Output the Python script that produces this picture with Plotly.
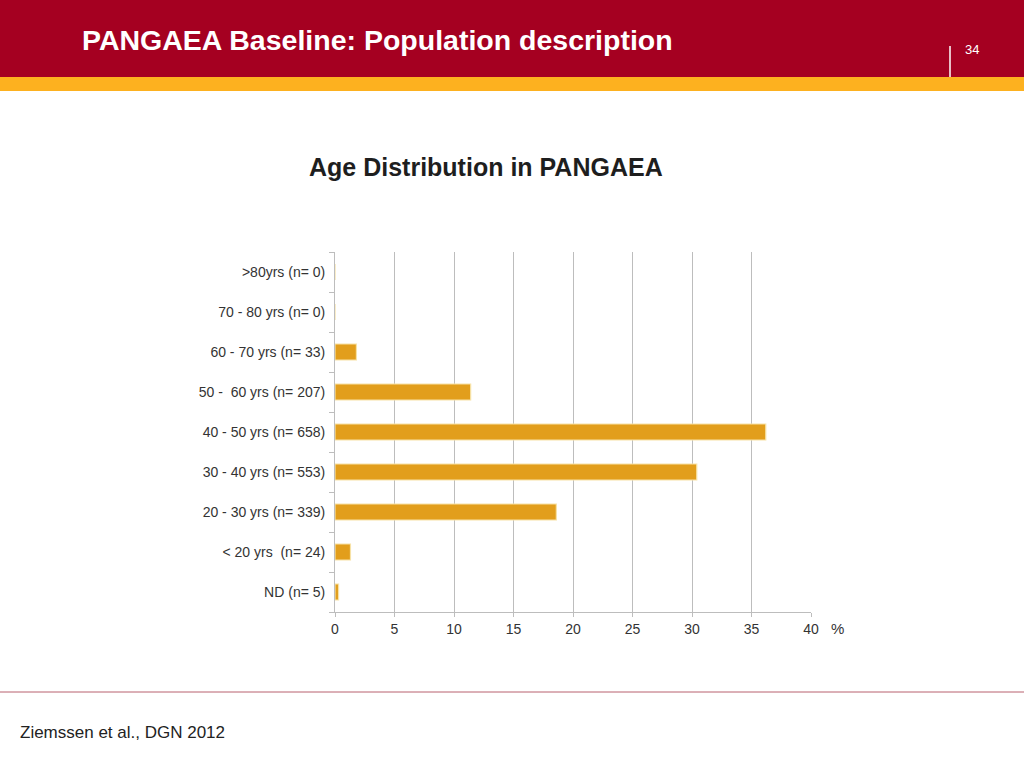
import plotly.graph_objects as go

# age groups, top to bottom as on the slide
groups = ["ND (n= 5)", "< 20 yrs  (n= 24)", "20 - 30 yrs (n= 339)", "30 - 40 yrs (n= 553)",
          "40 - 50 yrs (n= 658)", "50 -  60 yrs (n= 207)", "60 - 70 yrs (n= 33)",
          "70 - 80 yrs (n= 0)", ">80yrs (n= 0)"]
percent = [0.3, 1.3, 18.6, 30.4, 36.2, 11.4, 1.8, 0.0, 0.0]
x_ticks = [0, 5, 10, 15, 20, 25, 30, 35, 40]

W, H = 1024, 768
font = "Liberation Sans, Arial, sans-serif"
narrow = "Liberation Sans Narrow, Arial Narrow, Liberation Sans, sans-serif"

fig = go.Figure()
fig.add_trace(go.Bar(x=percent, y=groups, orientation="h", width=0.4,
                     marker=dict(color="#E29E1C", line=dict(color="#F7E2A6", width=1.2)),
                     hoverinfo="x+y"))

fig.update_xaxes(range=[0, 40], tickvals=x_ticks, showgrid=True, gridcolor="#BDBDBD", gridwidth=1,
                 showline=True, linecolor="#BDBDBD", linewidth=1, ticks="outside", ticklen=4,
                 tickcolor="#BDBDBD", zeroline=False, domain=[335 / W, 811 / W], automargin=False,
                 tickfont=dict(family=font, size=14, color="#333333"))
fig.update_yaxes(showline=True, linecolor="#BDBDBD", linewidth=1, ticks="outside", ticklen=5,
                 tickcolor="#BDBDBD", tickson="boundaries", showgrid=False, automargin=False,
                 domain=[1 - 612 / H, 1 - 252 / H], range=[-0.5, 8.5],
                 tickfont=dict(family=font, size=14, color="#333333"), ticklabelstandoff=6)

shapes = [
    dict(type="rect", xref="paper", yref="paper", x0=0, x1=1, y0=1 - 77 / H, y1=1,
         fillcolor="#A50021", line_width=0, layer="below"),
    dict(type="rect", xref="paper", yref="paper", x0=0, x1=1, y0=1 - 91 / H, y1=1 - 77 / H,
         fillcolor="#FDB11F", line_width=0, layer="below"),
    dict(type="line", xref="paper", yref="paper", x0=950 / W, x1=950 / W, y0=1 - 77 / H, y1=1 - 46 / H,
         line=dict(color="white", width=1.5)),
    dict(type="line", xref="paper", yref="paper", x0=0, x1=1, y0=1 - 692 / H, y1=1 - 692 / H,
         line=dict(color="#B8606F", width=1)),
]

annotations = [
    dict(text="<b>PANGAEA Baseline: Population description</b>", x=80 / W, y=1 - 40 / H,
         xanchor="left", yanchor="middle", font=dict(family=narrow, size=28.5, color="white")),
    dict(text="34", x=963 / W, y=1 - 50 / H, xanchor="left", yanchor="middle",
         font=dict(family=narrow, size=13, color="white")),
    dict(text="<b>Age Distribution in PANGAEA</b>", x=486 / W, y=1 - 167 / H,
         xanchor="center", yanchor="middle", font=dict(family=font, size=25, color="#1E1E1E")),
    dict(text="%", x=829 / W, y=1 - 628 / H, xanchor="left", yanchor="middle",
         font=dict(family=font, size=15, color="#333333")),
    dict(text="Ziemssen et al., DGN 2012", x=18 / W, y=1 - 732 / H, xanchor="left", yanchor="middle",
         font=dict(family=font, size=17, color="#222222")),
]
for a in annotations:
    a.update(xref="paper", yref="paper", showarrow=False)

fig.update_layout(width=W, height=H, margin=dict(l=0, r=0, t=0, b=0, pad=0, autoexpand=False),
                  paper_bgcolor="white", plot_bgcolor="white", showlegend=False,
                  shapes=shapes, annotations=annotations, bargap=0.6)

fig.write_html("out.html", config={"displayModeBar": False},
               post_script="document.body.style.margin='0';document.body.style.overflow='hidden';")
